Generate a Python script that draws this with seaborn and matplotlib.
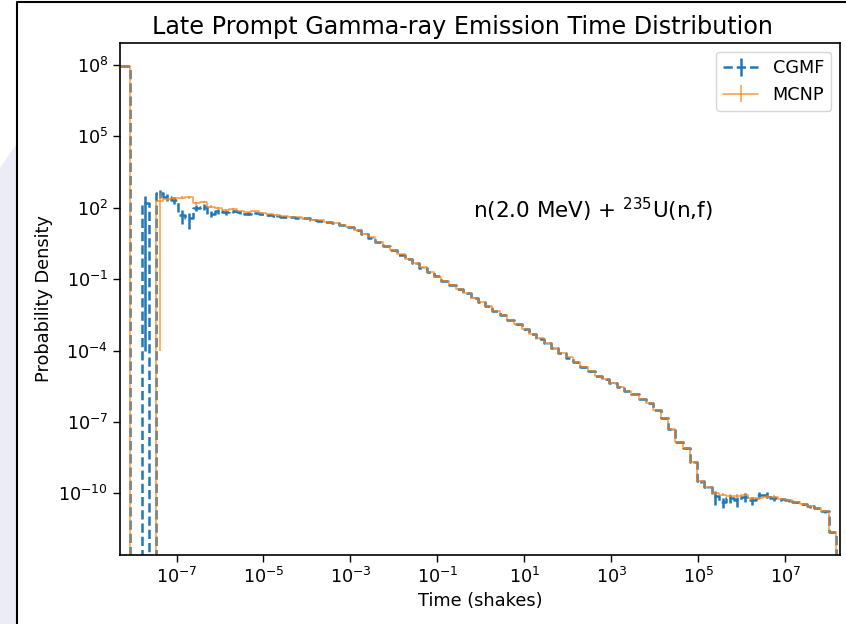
import numpy as np
import matplotlib
matplotlib.use("Agg")
import matplotlib.pyplot as plt
import seaborn as sns
from matplotlib.patches import Polygon
from matplotlib.lines import Line2D

# bin edges in shakes: one wide leading bin, one empty bin, then 95 log bins
lead_edges = [10 ** -8.6, 10 ** -8.07]
log_edges = np.logspace(-7.805, 8.17, 96)

# log10(probability density) per bin, -inf marks an empty bin
cgmf_log = [
    7.94, -np.inf,
    2.2, -np.inf, 2.6, 2.45, 2.33, 1.7, 1.55, 2.0, 2.05, 1.75,
    1.85, 1.8, 1.85, 1.8, 1.75, 1.78, 1.72, 1.7, 1.66, 1.6,
    1.62, 1.58, 1.55, 1.5, 1.46, 1.42, 1.36, 1.28, 1.18, 1.05,
    0.9, 0.74, 0.57, 0.39, 0.21, 0.03, -0.15, -0.33, -0.52, -0.7,
    -0.88, -1.06, -1.24, -1.42, -1.6, -1.78, -1.96, -2.14, -2.32, -2.5,
    -2.7, -2.9, -3.1, -3.3, -3.5, -3.7, -3.9, -4.1, -4.3, -4.5,
    -4.7, -4.88, -5.05, -5.2, -5.36, -5.52, -5.68, -5.84, -6.02, -6.22,
    -6.5, -6.85, -7.3, -7.85, -8.1, -8.7, -9.5, -9.75, -10.1, -10.35,
    -10.2, -10.3, -10.15, -10.3, -10.05, -10.05, -10.2, -10.25, -10.3, -10.35,
    -10.45, -10.55, -10.62, -10.75, -11.61,
]
mcnp_log = [
    7.94, -np.inf,
    -np.inf, -np.inf, 2.3, 2.35, 2.4, 2.42, 2.45, 2.2, 2.25, 2.05,
    2.0, 1.9, 1.95, 1.85, 1.8, 1.85, 1.78, 1.72, 1.7, 1.64,
    1.6, 1.6, 1.54, 1.5, 1.47, 1.42, 1.37, 1.28, 1.17, 1.05,
    0.9, 0.75, 0.57, 0.4, 0.21, 0.04, -0.15, -0.34, -0.51, -0.7,
    -0.89, -1.06, -1.23, -1.42, -1.6, -1.79, -1.96, -2.13, -2.32, -2.51,
    -2.7, -2.89, -3.1, -3.3, -3.49, -3.7, -3.9, -4.1, -4.29, -4.5,
    -4.7, -4.87, -5.05, -5.2, -5.35, -5.52, -5.68, -5.85, -6.02, -6.21,
    -6.5, -6.85, -7.3, -7.85, -8.1, -8.7, -9.5, -9.75, -10.0, -10.05,
    -10.1, -10.1, -10.05, -10.2, -10.2, -10.15, -10.15, -10.25, -10.3, -10.35,
    -10.45, -10.55, -10.62, -10.75, -11.61,
]

# relative statistical errors per bin
cgmf_relerr = [
    0.001, 0.0,
    0.9999994, 0.0, 0.35, 0.3, 0.3, 0.6, 0.65, 0.3, 0.3, 0.25,
    0.2, 0.2, 0.15, 0.12, 0.12, 0.12, 0.1, 0.1, 0.1, 0.08,
    0.08, 0.04, 0.04, 0.04, 0.04, 0.04, 0.04, 0.04, 0.04, 0.04,
    0.04, 0.04, 0.04, 0.04, 0.04, 0.04, 0.04, 0.04, 0.04, 0.04,
    0.04, 0.04, 0.04, 0.04, 0.04, 0.04, 0.04, 0.04, 0.04, 0.04,
    0.04, 0.04, 0.04, 0.04, 0.04, 0.04, 0.04, 0.04, 0.04, 0.04,
    0.04, 0.04, 0.04, 0.04, 0.04, 0.04, 0.04, 0.04, 0.04, 0.04,
    0.04, 0.04, 0.04, 0.1, 0.1, 0.1, 0.1, 0.1, 0.6, 0.45,
    0.4, 0.45, 0.4, 0.35, 0.3, 0.3, 0.25, 0.12, 0.12, 0.12,
    0.12, 0.12, 0.12, 0.12, 0.1,
]
mcnp_relerr = [
    0.001, 0.0,
    0.0, 0.0, 0.9999995, 0.15, 0.15, 0.15, 0.15, 0.15, 0.12, 0.12,
    0.1, 0.1, 0.1, 0.06, 0.06, 0.06, 0.06, 0.06, 0.06, 0.06,
    0.06, 0.02, 0.02, 0.02, 0.02, 0.02, 0.02, 0.02, 0.02, 0.02,
    0.02, 0.02, 0.02, 0.02, 0.02, 0.02, 0.02, 0.02, 0.02, 0.02,
    0.02, 0.02, 0.02, 0.02, 0.02, 0.02, 0.02, 0.02, 0.02, 0.02,
    0.02, 0.02, 0.02, 0.02, 0.02, 0.02, 0.02, 0.02, 0.02, 0.02,
    0.02, 0.02, 0.02, 0.02, 0.02, 0.02, 0.02, 0.02, 0.02, 0.02,
    0.02, 0.02, 0.02, 0.06, 0.06, 0.06, 0.06, 0.06, 0.15, 0.15,
    0.15, 0.15, 0.15, 0.15, 0.15, 0.15, 0.15, 0.06, 0.06, 0.06,
    0.06, 0.06, 0.06, 0.06, 0.05,
]

x_ticks = [1e-7, 1e-5, 1e-3, 1e-1, 1e1, 1e3, 1e5, 1e7]
y_ticks = [1e-10, 1e-7, 1e-4, 1e-1, 1e2, 1e5, 1e8]

sns.set_style("ticks", {
    "axes.edgecolor": "black", "axes.labelcolor": "black", "text.color": "black",
    "xtick.color": "black", "ytick.color": "black",
})
plt.rcParams["font.family"] = ["DejaVu Sans"]
plt.rcParams.update({
    "xtick.labelsize": 12.7, "ytick.labelsize": 12.7, "axes.labelsize": 12.8,
    "legend.fontsize": 12.7, "xtick.major.size": 5, "ytick.major.size": 5,
    "xtick.major.width": 1.0, "ytick.major.width": 1.0, "axes.linewidth": 1.2,
})
palette = sns.color_palette("tab10")

fig = plt.figure(figsize=(8.46, 6.24), dpi=100)
ax = fig.add_axes([120 / 846, 1 - 555 / 624, 720 / 846, 512 / 624])

edges = np.concatenate([lead_edges, log_edges])
centers = np.sqrt(edges[:-1] * edges[1:])

series = [
    ("CGMF", cgmf_log, cgmf_relerr, palette[0], "--", 1.8, 1.0),
    ("MCNP", mcnp_log, mcnp_relerr, palette[1], "-", 1.1, 0.8),
]
handles = []
for name, logs, rel, color, ls, lw, alpha in series:
    vals = 10.0 ** np.array(logs)
    sns.lineplot(x=edges, y=np.append(vals, 0.0), drawstyle="steps-post",
                 color=color, linestyle=ls, linewidth=lw, alpha=alpha,
                 estimator=None, sort=False, legend=False, ax=ax)
    ok = vals > 0
    err = vals * np.array(rel)
    ax.errorbar(centers[ok], vals[ok], yerr=err[ok], fmt="none", ecolor=color,
                elinewidth=lw, alpha=alpha)
    h = ax.errorbar([np.nan], [np.nan], yerr=[np.nan], color=color, ls=ls,
                    lw=lw, alpha=alpha, label=name)
    handles.append(h)

ax.set_xscale("log")
ax.set_yscale("log")
ax.set_xlim(10 ** -8.30, 10 ** 8.26)
ax.set_ylim(10 ** -12.59, 10 ** 8.92)
ax.set_xticks(x_ticks)
ax.set_yticks(y_ticks)
ax.minorticks_off()
ax.set_xlabel("Time (shakes)")
ax.set_ylabel("Probability Density")

ax.legend(handles=handles, labels=["CGMF", "MCNP"], loc="upper right")
ax.text(0.49, 0.674, r"n(2.0 MeV) + $^{235}$U(n,f)", transform=ax.transAxes,
        fontsize=15.5, va="center", ha="left")

fig.text(462 / 846, 1 - 34.3 / 624, "Late Prompt Gamma-ray Emission Time Distribution",
         fontsize=17.2, ha="center", va="baseline")

# screenshot frame around the figure
fig.patches.append(Polygon([(0, 0), (17 / 846, 0), (17 / 846, 1 - 143 / 624), (0, 1 - 168 / 624)],
                           closed=True, transform=fig.transFigure,
                           facecolor="#ececf6", edgecolor="none", zorder=-1))
fig.add_artist(Line2D([17 / 846, 17 / 846, 1], [0, 1 - 2 / 624, 1 - 2 / 624],
                      transform=fig.transFigure, color="black", lw=1.5))

fig.savefig("out.png", dpi=100)
